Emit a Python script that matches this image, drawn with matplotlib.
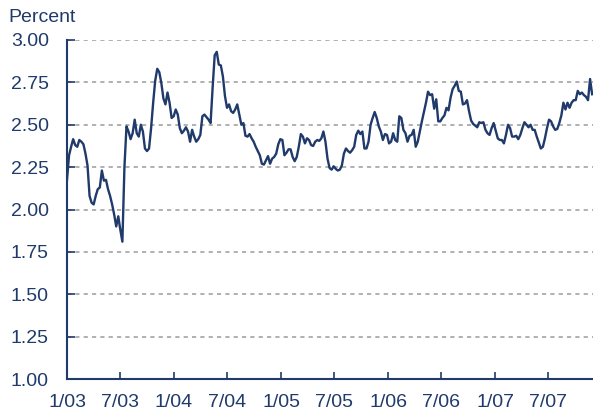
import pandas as pd
import matplotlib.pyplot as plt
import matplotlib.dates as mdates

plt.rcParams['font.family'] = ['Liberation Sans', 'DejaVu Sans']
plt.rcParams['lines.scale_dashes'] = False

# weekly readings, Jan 2003 - Nov 2007 (percent)
values = [
    2.175, 2.32, 2.37, 2.415, 2.38, 2.37, 2.41, 2.40, 2.385, 2.33,
    2.26, 2.08, 2.04, 2.03, 2.08, 2.12, 2.13, 2.23, 2.17, 2.175,
    2.12, 2.08, 2.03, 1.97, 1.90, 1.96, 1.88, 1.81, 2.25, 2.49,
    2.46, 2.415, 2.45, 2.53, 2.45, 2.43, 2.50, 2.46, 2.36, 2.345,
    2.36, 2.48, 2.63, 2.76, 2.83, 2.81, 2.745, 2.655, 2.62, 2.69,
    2.63, 2.54, 2.55, 2.59, 2.56, 2.48, 2.45, 2.465, 2.485, 2.46,
    2.40, 2.47, 2.43, 2.40, 2.415, 2.44, 2.55, 2.56, 2.545, 2.53,
    2.51, 2.72, 2.91, 2.93, 2.855, 2.85, 2.785, 2.67, 2.60, 2.62,
    2.58, 2.57, 2.59, 2.62, 2.56, 2.50, 2.51, 2.435, 2.43, 2.445,
    2.42, 2.40, 2.37, 2.345, 2.32, 2.27, 2.265, 2.29, 2.315, 2.27,
    2.30, 2.31, 2.33, 2.385, 2.415, 2.41, 2.32, 2.335, 2.355, 2.355,
    2.31, 2.285, 2.31, 2.37, 2.445, 2.43, 2.39, 2.42, 2.41, 2.38,
    2.375, 2.40, 2.41, 2.405, 2.42, 2.46, 2.40, 2.30, 2.245, 2.235,
    2.255, 2.24, 2.23, 2.235, 2.26, 2.33, 2.36, 2.345, 2.335, 2.35,
    2.37, 2.44, 2.465, 2.445, 2.46, 2.36, 2.36, 2.40, 2.50, 2.54,
    2.575, 2.54, 2.49, 2.46, 2.41, 2.445, 2.44, 2.39, 2.40, 2.45,
    2.41, 2.40, 2.55, 2.54, 2.47, 2.45, 2.40, 2.435, 2.44, 2.47,
    2.37, 2.40, 2.46, 2.52, 2.575, 2.63, 2.695, 2.675, 2.68, 2.595,
    2.65, 2.52, 2.52, 2.54, 2.555, 2.60, 2.585, 2.66, 2.71, 2.73,
    2.755, 2.70, 2.695, 2.62, 2.625, 2.645, 2.58, 2.525, 2.505, 2.495,
    2.485, 2.515, 2.51, 2.515, 2.47, 2.45, 2.44, 2.48, 2.51, 2.465,
    2.42, 2.41, 2.41, 2.39, 2.44, 2.50, 2.48, 2.43, 2.43, 2.435,
    2.415, 2.44, 2.48, 2.515, 2.50, 2.485, 2.50, 2.47, 2.47, 2.43,
    2.395, 2.36, 2.37, 2.42, 2.48, 2.53, 2.52, 2.49, 2.47, 2.475,
    2.51, 2.555, 2.63, 2.59, 2.63, 2.60, 2.63, 2.645, 2.645, 2.70,
    2.68, 2.69, 2.675, 2.665, 2.645, 2.77, 2.68,
]
dates = pd.date_range('2003-01-01', periods=len(values), freq='7D')

tick_dates = pd.to_datetime(['2003-01-01', '2003-07-01', '2004-01-01', '2004-07-01',
                             '2005-01-01', '2005-07-01', '2006-01-01', '2006-07-01',
                             '2007-01-01', '2007-07-01'])
tick_labels = ['1/03', '7/03', '1/04', '7/04', '1/05', '7/05', '1/06', '7/06', '1/07', '7/07']
y_ticks = [1.00, 1.25, 1.50, 1.75, 2.00, 2.25, 2.50, 2.75, 3.00]

navy = '#1F3A6B'

fig = plt.figure(figsize=(5.93, 4.16), dpi=100)
ax = fig.add_axes([67/593, 1 - 379/416, 1 - 67/593, (379 - 40)/416])

# gridlines
for y in y_ticks[1:]:
    ax.axhline(y, color='#AAAAAA', lw=1.3, linestyle=(0, (3, 3)), zorder=1)

ax.plot(dates, values, color=navy, lw=1.7, zorder=3)

ax.set_ylim(1.0, 3.0)
ax.set_xlim(pd.Timestamp('2003-01-01'), pd.Timestamp('2007-12-01'))
ax.set_yticks(y_ticks)
ax.set_yticklabels([f'{v:.2f}' for v in y_ticks])
ax.set_xticks(tick_dates)
ax.set_xticklabels(tick_labels)

ax.tick_params(axis='y', direction='in', length=6, width=1.2, color=navy,
               labelcolor=navy, labelsize=14, pad=13)
ax.tick_params(axis='x', direction='in', length=5, width=1.2, color=navy,
               labelcolor=navy, labelsize=14, pad=11)

for s in ['top', 'right']:
    ax.spines[s].set_visible(False)
for s in ['left', 'bottom']:
    ax.spines[s].set_color(navy)
    ax.spines[s].set_linewidth(1.5)

fig.text(8/593, 1 - 18/416, 'Percent', color=navy, fontsize=14, va='center', ha='left')

fig.savefig('out.png', dpi=100)
